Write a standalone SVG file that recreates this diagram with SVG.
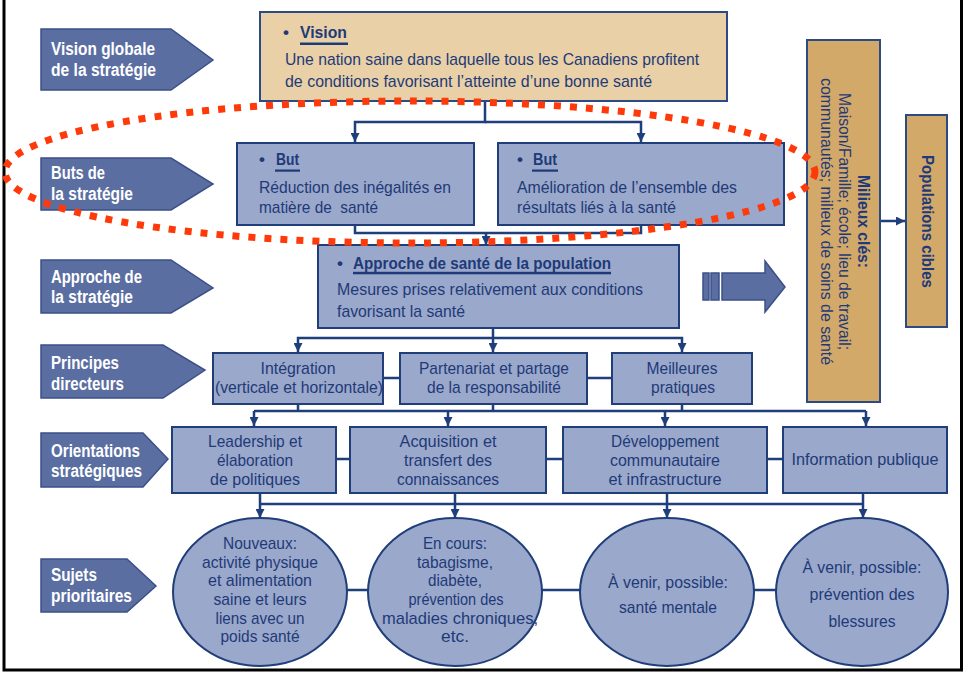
<svg xmlns="http://www.w3.org/2000/svg" width="965" height="677" viewBox="0 0 965 677">
<style>
.lbl{fill:#5a6ea2;stroke:#3b5088;stroke-width:1.5}
.lt{font-family:'Liberation Sans Narrow','Arial Narrow','Liberation Sans',Arial,sans-serif;font-weight:bold;font-size:18px;fill:#ffffff}
.box{fill:#9aa8cb;stroke:#1f3e7a;stroke-width:2}
.tan{fill:#e9d0a6;stroke:#2c4a84;stroke-width:2}
.gold{fill:#d3a96a;stroke:#2c4a84;stroke-width:2}
.t{font-family:'Liberation Sans Narrow','Arial Narrow','Liberation Sans',Arial,sans-serif;font-size:17px;fill:#1f3a78}
.m{text-anchor:middle}
.b{font-weight:bold}
.ul{fill:#1f3a78}
.c{fill:none;stroke:#1e3f7b;stroke-width:2.5}
.ca{fill:none;stroke:#1e3f7b;stroke-width:2.5;marker-end:url(#ah)}
.red{fill:none;stroke:#ff3a0a;stroke-width:7;stroke-dasharray:7 9}
.big{fill:#5a6ea2;stroke:#3b5088;stroke-width:1.5}
</style>
<defs>
<marker id="ah" viewBox="0 0 10 10" refX="10" refY="5" markerWidth="9" markerHeight="9" markerUnits="userSpaceOnUse" orient="auto">
<path d="M0,0 L10,5 L0,10 z" fill="#1e3f7b"/>
</marker>
</defs>
<rect x="0" y="0" width="965" height="677" fill="#ffffff"/>
<!-- frame -->
<g id="frame" fill="none" stroke="#000000" stroke-width="3">
<path d="M4,0 V670 H961.5 V0"/>
</g>

<!-- left labels -->
<g id="lbl-vision">
<polygon class="lbl" points="41,29 171,29 213,60 171,90 41,90"/>
<text class="lt" x="51" y="55" textLength="104" lengthAdjust="spacingAndGlyphs">Vision globale</text>
<text class="lt" x="51" y="76" textLength="105" lengthAdjust="spacingAndGlyphs">de la stratégie</text>
</g>
<g id="lbl-buts">
<polygon class="lbl" points="41,158 171,158 213,184 171,210 41,210"/>
<text class="lt" x="51" y="179" textLength="54" lengthAdjust="spacingAndGlyphs">Buts de</text>
<text class="lt" x="51" y="200" textLength="82" lengthAdjust="spacingAndGlyphs">la stratégie</text>
</g>
<g id="lbl-approche">
<polygon class="lbl" points="41,260 171,260 213,288 171,313 41,313"/>
<text class="lt" x="51" y="283" textLength="91" lengthAdjust="spacingAndGlyphs">Approche de</text>
<text class="lt" x="51" y="303" textLength="82" lengthAdjust="spacingAndGlyphs">la stratégie</text>
</g>
<g id="lbl-principes">
<polygon class="lbl" points="41,345 163,345 205,370 163,398 41,398"/>
<text class="lt" x="51" y="369" textLength="68" lengthAdjust="spacingAndGlyphs">Principes</text>
<text class="lt" x="51" y="390" textLength="73" lengthAdjust="spacingAndGlyphs">directeurs</text>
</g>
<g id="lbl-orientations">
<polygon class="lbl" points="41,433 143,433 168,459 143,487 41,487"/>
<text class="lt" x="51" y="457" textLength="89" lengthAdjust="spacingAndGlyphs">Orientations</text>
<text class="lt" x="51" y="477" textLength="91" lengthAdjust="spacingAndGlyphs">stratégiques</text>
</g>
<g id="lbl-sujets">
<polygon class="lbl" points="41,559 127,559 156,586 127,612 41,612"/>
<text class="lt" x="51" y="581" textLength="46" lengthAdjust="spacingAndGlyphs">Sujets</text>
<text class="lt" x="51" y="602" textLength="81" lengthAdjust="spacingAndGlyphs">prioritaires</text>
</g>

<!-- connectors -->
<g id="connectors">
<path class="ca" d="M485,101 V122 H355 V142"/>
<path class="ca" d="M485,122 H641 V142"/>
<path class="c" d="M355,225 V233 H641 V225"/>
<path class="ca" d="M486,233 V245"/>
<path class="c" d="M493,328 V338"/>
<path class="ca" d="M493,338 H298 V352"/>
<path class="ca" d="M493,338 H682 V352"/>
<path class="ca" d="M493,338 V352"/>
<path class="c" d="M383,378 H400 M587,378 H612"/>
<path class="c" d="M298,404 V411 M493,404 V411 M682,404 V411 M254,411 H866"/>
<path class="ca" d="M254,411 V426"/>
<path class="ca" d="M448,411 V426"/>
<path class="ca" d="M665,411 V426"/>
<path class="ca" d="M866,411 V426"/>
<path class="c" d="M336,459 H350 M546,459 H563 M767,459 H783"/>
<path class="c" d="M260,493 V504 M455,493 V504 M667,493 V504 M863,493 V504 M260,504 H863"/>
<path class="ca" d="M260,504 V518"/>
<path class="ca" d="M455,504 V518"/>
<path class="ca" d="M667,504 V518"/>
<path class="ca" d="M863,504 V518"/>
<path class="c" d="M347,590 H368 M541,590 H580 M753,590 H776"/>
<path class="ca" d="M880,221 H905"/>
</g>

<!-- vision -->
<g id="vision">
<rect class="tan" x="260" y="12" width="467" height="89"/>
<text class="t b" x="283" y="38">•</text>
<text class="t b" x="300" y="38" textLength="47" lengthAdjust="spacingAndGlyphs">Vision</text>
<rect class="ul" x="300" y="42.5" width="48" height="2.5"/>
<text class="t" x="285" y="65" textLength="414" lengthAdjust="spacingAndGlyphs">Une nation saine dans laquelle tous les Canadiens profitent</text>
<text class="t" x="285" y="87" textLength="367" lengthAdjust="spacingAndGlyphs">de conditions favorisant l’atteinte d’une bonne santé</text>
</g>

<!-- buts -->
<g id="but1">
<rect class="box" x="237" y="143" width="237" height="82"/>
<text class="t b" x="259" y="165">•</text>
<text class="t b" x="276" y="165" textLength="23" lengthAdjust="spacingAndGlyphs">But</text>
<rect class="ul" x="275" y="169.5" width="25" height="2.2"/>
<text class="t" x="259" y="193" textLength="192" lengthAdjust="spacingAndGlyphs">Réduction des inégalités en</text>
<text class="t" x="259" y="213" textLength="119" lengthAdjust="spacingAndGlyphs" xml:space="preserve">matière de  santé</text>
</g>
<g id="but2">
<rect class="box" x="498" y="143" width="286" height="82"/>
<text class="t b" x="517" y="165">•</text>
<text class="t b" x="533" y="165" textLength="24" lengthAdjust="spacingAndGlyphs">But</text>
<rect class="ul" x="532" y="169.5" width="26" height="2.2"/>
<text class="t" x="517" y="193" textLength="220" lengthAdjust="spacingAndGlyphs">Amélioration de l’ensemble des</text>
<text class="t" x="517" y="213" textLength="159" lengthAdjust="spacingAndGlyphs">résultats liés à la santé</text>
</g>

<!-- approche -->
<g id="approche">
<rect class="box" x="318" y="245" width="361" height="83"/>
<text class="t b" x="337" y="269">•</text>
<text class="t b" x="353" y="269" textLength="258" lengthAdjust="spacingAndGlyphs">Approche de santé de la population</text>
<rect class="ul" x="353" y="271.8" width="258" height="2.5"/>
<text class="t" x="337" y="295" textLength="306" lengthAdjust="spacingAndGlyphs">Mesures prises relativement aux conditions</text>
<text class="t" x="337" y="317" textLength="128" lengthAdjust="spacingAndGlyphs">favorisant la santé</text>
</g>

<!-- big arrow -->
<g id="big-arrow">
<rect class="big" x="703" y="273" width="6" height="27"/>
<rect class="big" x="711" y="273" width="8" height="27"/>
<polygon class="big" points="722,273 765,273 765,261 785,287 765,312 765,300 722,300"/>
</g>

<!-- milieux -->
<g id="milieux">
<rect class="gold" x="807" y="40" width="73" height="362"/>
<text class="t b m" transform="translate(858,221.5) rotate(90)" textLength="93" lengthAdjust="spacingAndGlyphs">Milieux clés:</text>
<text class="t m" transform="translate(839,221.5) rotate(90)" textLength="257" lengthAdjust="spacingAndGlyphs">Maison/Famille; école; lieu de travail;</text>
<text class="t m" transform="translate(821,221.5) rotate(90)" textLength="287" lengthAdjust="spacingAndGlyphs">communautés; milieux de soins de santé</text>
</g>
<g id="populations">
<rect class="gold" x="906" y="115" width="41" height="212"/>
<text class="t b m" transform="translate(922,221.5) rotate(90)" textLength="133" lengthAdjust="spacingAndGlyphs">Populations cibles</text>
</g>

<!-- principes -->
<g id="p-integration">
<rect class="box" x="213" y="353" width="170" height="51"/>
<text class="t m" x="298" y="374" textLength="75" lengthAdjust="spacingAndGlyphs">Intégration</text>
<text class="t m" x="299" y="393" textLength="168" lengthAdjust="spacingAndGlyphs">(verticale et horizontale)</text>
</g>
<g id="p-partenariat">
<rect class="box" x="400" y="353" width="187" height="51"/>
<text class="t m" x="494" y="374" textLength="150" lengthAdjust="spacingAndGlyphs">Partenariat et partage</text>
<text class="t m" x="494" y="393" textLength="134" lengthAdjust="spacingAndGlyphs">de la responsabilité</text>
</g>
<g id="p-meilleures">
<rect class="box" x="612" y="353" width="140" height="51"/>
<text class="t m" x="682" y="374" textLength="71" lengthAdjust="spacingAndGlyphs">Meilleures</text>
<text class="t m" x="683" y="393" textLength="64" lengthAdjust="spacingAndGlyphs">pratiques</text>
</g>

<!-- orientations -->
<g id="o-leadership">
<rect class="box" x="172" y="427" width="164" height="66"/>
<text class="t m" x="255" y="447" textLength="94" lengthAdjust="spacingAndGlyphs">Leadership et</text>
<text class="t m" x="255" y="466" textLength="76" lengthAdjust="spacingAndGlyphs">élaboration</text>
<text class="t m" x="255" y="485" textLength="90" lengthAdjust="spacingAndGlyphs">de politiques</text>
</g>
<g id="o-acquisition">
<rect class="box" x="350" y="427" width="196" height="66"/>
<text class="t m" x="448" y="447" textLength="97" lengthAdjust="spacingAndGlyphs">Acquisition et</text>
<text class="t m" x="448" y="466" textLength="88" lengthAdjust="spacingAndGlyphs">transfert des</text>
<text class="t m" x="448" y="485" textLength="102" lengthAdjust="spacingAndGlyphs">connaissances</text>
</g>
<g id="o-developpement">
<rect class="box" x="563" y="427" width="204" height="66"/>
<text class="t m" x="665" y="447" textLength="108" lengthAdjust="spacingAndGlyphs">Développement</text>
<text class="t m" x="665" y="466" textLength="110" lengthAdjust="spacingAndGlyphs">communautaire</text>
<text class="t m" x="665" y="485" textLength="113" lengthAdjust="spacingAndGlyphs">et infrastructure</text>
</g>
<g id="o-information">
<rect class="box" x="783" y="427" width="164" height="66"/>
<text class="t m" x="865" y="465" textLength="147" lengthAdjust="spacingAndGlyphs">Information publique</text>
</g>

<!-- sujets -->
<g id="s-nouveaux">
<ellipse class="box" cx="260" cy="592" rx="87" ry="74"/>
<text class="t m" x="260" y="549" textLength="74" lengthAdjust="spacingAndGlyphs">Nouveaux:</text>
<text class="t m" x="260" y="568" textLength="116" lengthAdjust="spacingAndGlyphs">activité physique</text>
<text class="t m" x="260" y="586" textLength="104" lengthAdjust="spacingAndGlyphs">et alimentation</text>
<text class="t m" x="260" y="605" textLength="93" lengthAdjust="spacingAndGlyphs">saine et leurs</text>
<text class="t m" x="260" y="624" textLength="89" lengthAdjust="spacingAndGlyphs">liens avec un</text>
<text class="t m" x="260" y="642" textLength="79" lengthAdjust="spacingAndGlyphs">poids santé</text>
</g>
<g id="s-encours">
<ellipse class="box" cx="455" cy="592" rx="87" ry="74"/>
<text class="t m" x="455" y="549" textLength="64" lengthAdjust="spacingAndGlyphs">En cours:</text>
<text class="t m" x="455" y="568" textLength="76" lengthAdjust="spacingAndGlyphs">tabagisme,</text>
<text class="t m" x="455" y="586" textLength="54" lengthAdjust="spacingAndGlyphs">diabète,</text>
<text class="t m" x="456" y="605" textLength="95" lengthAdjust="spacingAndGlyphs">prévention des</text>
<text class="t m" x="460" y="624" textLength="156" lengthAdjust="spacingAndGlyphs">maladies chroniques,</text>
<text class="t m" x="455" y="642" textLength="28" lengthAdjust="spacingAndGlyphs">etc.</text>
</g>
<g id="s-mentale">
<ellipse class="box" cx="667" cy="592" rx="87" ry="74"/>
<text class="t m" x="668" y="588" textLength="120" lengthAdjust="spacingAndGlyphs">À venir, possible:</text>
<text class="t m" x="668" y="613" textLength="98" lengthAdjust="spacingAndGlyphs">santé mentale</text>
</g>
<g id="s-blessures">
<ellipse class="box" cx="862" cy="592" rx="86" ry="74"/>
<text class="t m" x="862" y="573" textLength="119" lengthAdjust="spacingAndGlyphs">À venir, possible:</text>
<text class="t m" x="862" y="600" textLength="105" lengthAdjust="spacingAndGlyphs">prévention des</text>
<text class="t m" x="862" y="627" textLength="67" lengthAdjust="spacingAndGlyphs">blessures</text>
</g>

<!-- red dotted highlight -->
<g id="highlight">
<ellipse class="red" cx="410" cy="172" rx="405" ry="71"/>
</g>
</svg>
